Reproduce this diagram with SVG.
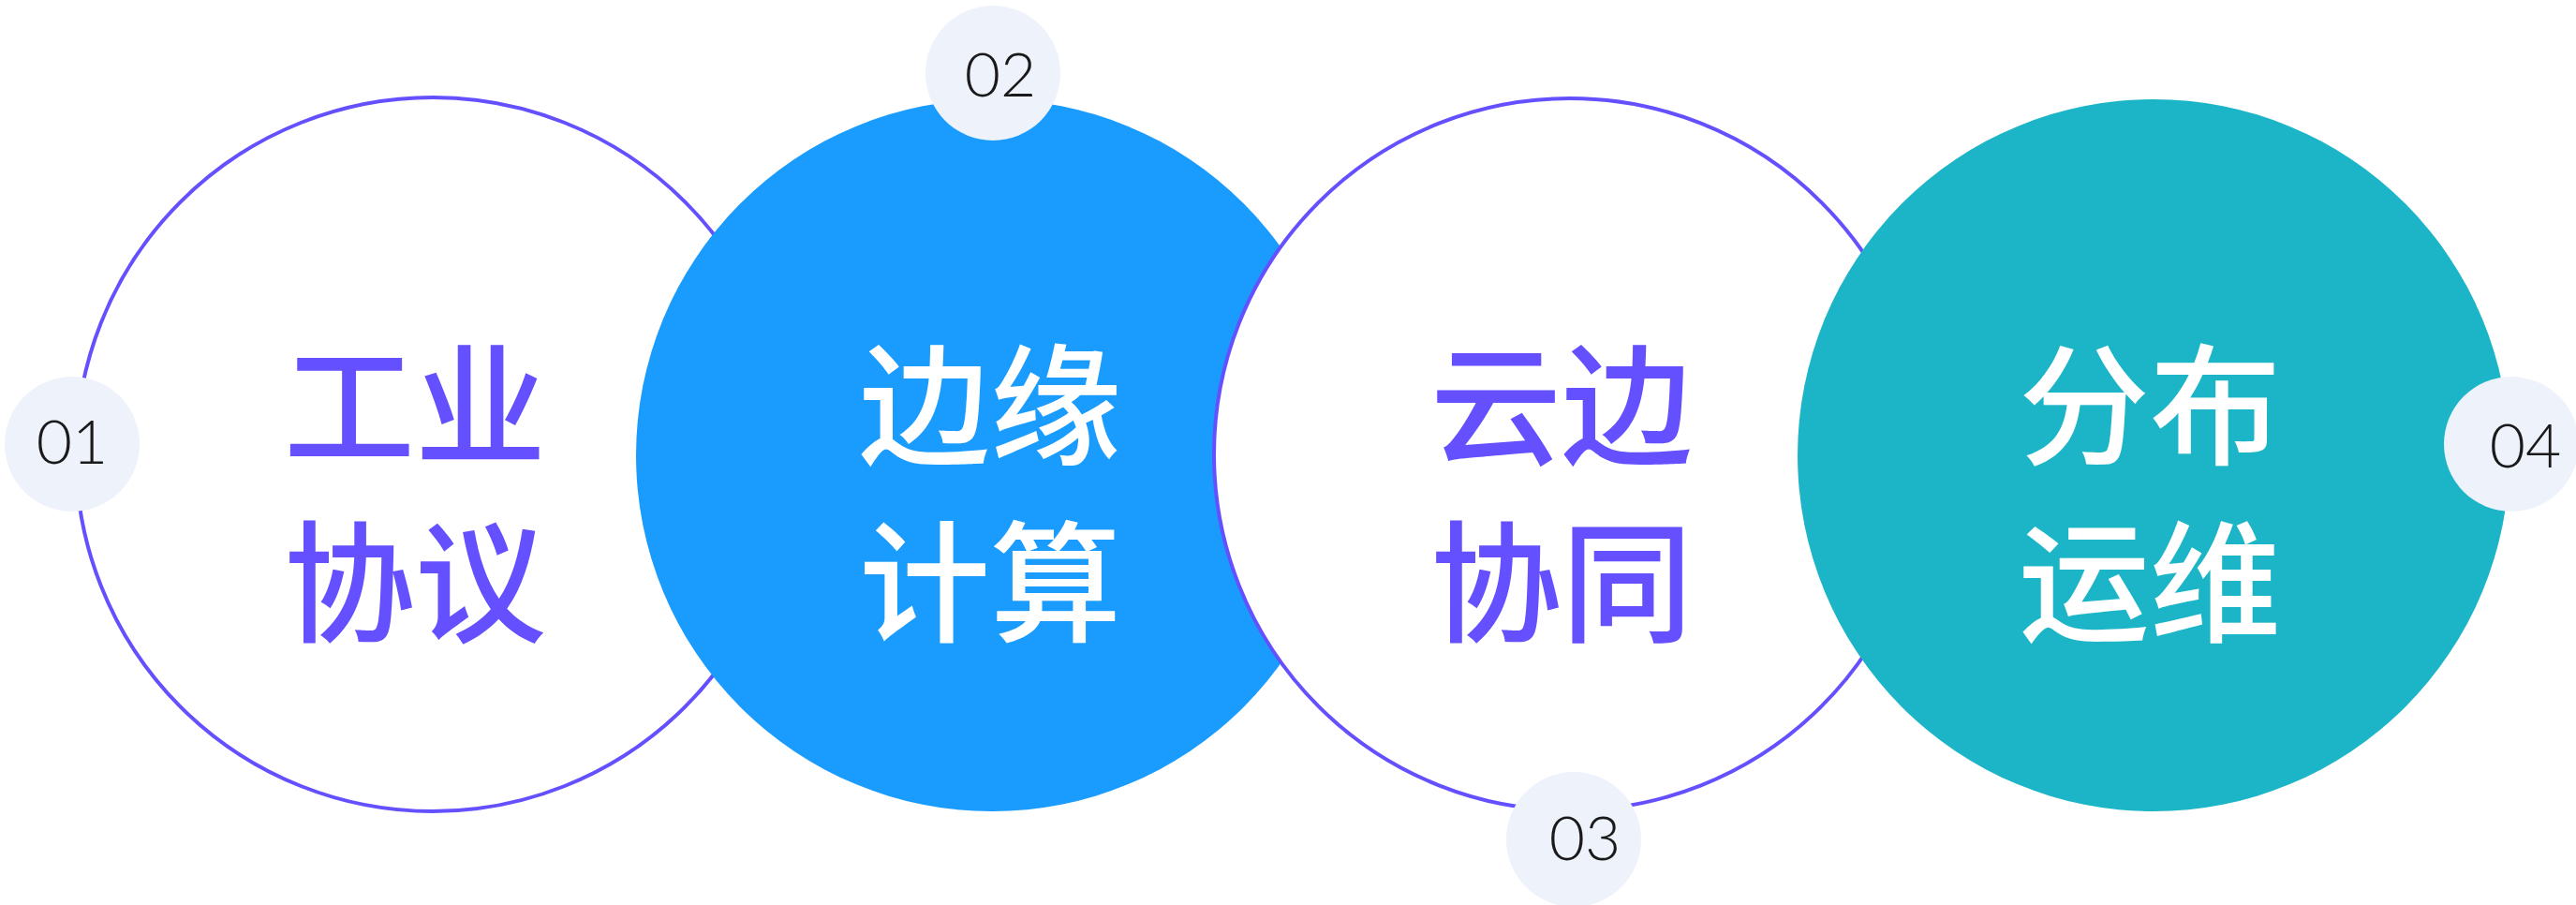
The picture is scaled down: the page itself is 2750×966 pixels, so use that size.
<svg xmlns="http://www.w3.org/2000/svg" width="2750" height="966" viewBox="0 0 2750 966">
<style>
.ring{fill:#FFFFFF;stroke:#6450FF;stroke-width:4}
.badge{fill:#EDF2FB}
.num{font-family:Lato,"Liberation Sans",sans-serif;font-weight:300;font-size:66px;fill:#1A1A1A;text-anchor:middle}
.lbl{font-family:"Noto Sans CJK SC","Noto Sans",sans-serif;font-weight:500;font-size:140px;text-anchor:middle}
.purple{fill:#6450FF}
.white{fill:#FFFFFF}
</style>
<rect width="2750" height="966" fill="#FFFFFF"/>
<g id="node1">
<circle class="ring" cx="462" cy="485" r="381"/>
<text class="lbl purple" x="443" y="485">工业</text>
<text class="lbl purple" x="443" y="674">协议</text>
</g>
<g id="node2">
<circle cx="1059" cy="486" r="380" fill="#1A9CFF"/>
<text class="lbl white" x="1057" y="485">边缘</text>
<text class="lbl white" x="1057" y="674">计算</text>
</g>
<g id="node3">
<circle class="ring" cx="1676" cy="485" r="380"/>
<text class="lbl purple" x="1667" y="485">云边</text>
<text class="lbl purple" x="1667" y="674">协同</text>
</g>
<g id="node4">
<circle cx="2299" cy="486" r="380" fill="#1CB5C7"/>
<text class="lbl white" x="2295" y="485">分布</text>
<text class="lbl white" x="2295" y="674">运维</text>
</g>
<g id="badge1">
<circle class="badge" cx="77" cy="474" r="72"/>
<text class="num" x="77" y="495">01</text>
</g>
<g id="badge2">
<circle class="badge" cx="1060" cy="78" r="72"/>
<text class="num" x="1068" y="103">02</text>
</g>
<g id="badge3">
<circle class="badge" cx="1680" cy="896" r="72"/>
<text class="num" x="1692" y="918">03</text>
</g>
<g id="badge4">
<circle class="badge" cx="2681" cy="474" r="72"/>
<text class="num" x="2696" y="499">04</text>
</g>
<g id="connectors"></g>
</svg>
